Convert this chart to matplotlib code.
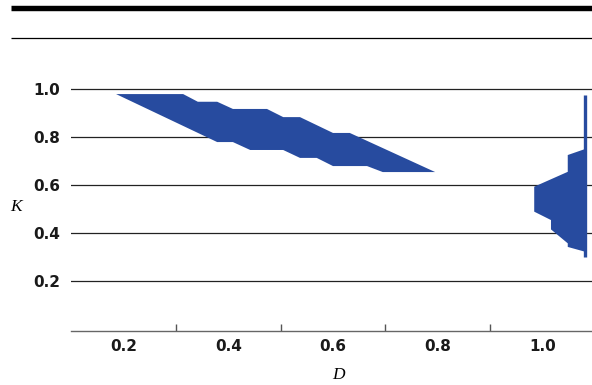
import matplotlib.pyplot as plt
from matplotlib.lines import Line2D

# main band (outline: top edge left->right, then bottom edge right->left)
band_d = [0.186, 0.314, 0.342, 0.379, 0.409, 0.474, 0.505, 0.537, 0.600, 0.632,
          0.795, 0.695, 0.665, 0.600, 0.569, 0.537, 0.505, 0.442, 0.409, 0.379]
band_k = [0.979, 0.979, 0.947, 0.947, 0.917, 0.917, 0.883, 0.883, 0.817, 0.817,
          0.654, 0.654, 0.679, 0.679, 0.713, 0.713, 0.746, 0.746, 0.779, 0.779]

# right-hand profile
side_d = [1.081, 1.048, 1.048, 0.984, 0.984, 1.016, 1.016, 1.048, 1.048, 1.081]
side_k = [0.750, 0.725, 0.655, 0.593, 0.489, 0.454, 0.415, 0.357, 0.342, 0.322]

# vertical stroke
stroke_d = 1.081
stroke_k = [0.30, 0.975]

x_labels = [0.2, 0.4, 0.6, 0.8, 1.0]
x_ticks = [0.3, 0.5, 0.7, 0.9]
y_ticks = [0.2, 0.4, 0.6, 0.8, 1.0]

blue = '#274b9f'

fig = plt.figure(figsize=(5.92, 3.85), dpi=100)
ax = fig.add_axes([71 / 592, 54 / 385, 521 / 592, 271 / 385])

ax.fill(band_d, band_k, color=blue, lw=0, zorder=3)
ax.fill(side_d, side_k, color=blue, lw=0, zorder=3)
ax.plot([stroke_d, stroke_d], stroke_k, color=blue, lw=2.4,
        solid_capstyle='butt', zorder=3)

ax.set_xlim(0.1, 0.1 + 521 / 524)
ax.set_ylim(-2 / 240, 1.121)

for s in ['top', 'right', 'left']:
    ax.spines[s].set_visible(False)
ax.spines['bottom'].set_color('#666666')
ax.spines['bottom'].set_linewidth(1.0)

ax.set_xticks(x_ticks)
ax.set_xticklabels([])
ax.tick_params(axis='x', which='major', direction='in', length=5,
               width=1.0, color='#555555')
ax.set_xticks(x_labels, minor=True)
ax.set_xticklabels([f'{v:.1f}' for v in x_labels], minor=True,
                   fontsize=11, fontweight='bold', color='#1a1a1a')
ax.tick_params(axis='x', which='minor', length=0, pad=6)

ax.set_yticks(y_ticks)
ax.set_yticklabels([f'{v:.1f}' for v in y_ticks], fontsize=11,
                   fontweight='bold', color='#1a1a1a')
ax.tick_params(axis='y', length=0, pad=8)
ax.set_axisbelow(True)
ax.yaxis.grid(True, color='#222222', lw=0.9)

fig.text(16 / 592, 1 - 207 / 385, 'K', family='Liberation Serif',
         style='italic', fontsize=12.5, ha='center', va='center')
fig.text(338 / 592, 1 - 375 / 385, 'D', family='Liberation Serif',
         style='italic', fontsize=12.5, ha='center', va='center')

# header rules
fig.add_artist(Line2D([11 / 592, 1], [1 - 8.4 / 385] * 2, color='black',
                      lw=3.9, solid_capstyle='butt'))
fig.add_artist(Line2D([11 / 592, 1], [1 - 38.3 / 385] * 2, color='black',
                      lw=0.9, solid_capstyle='butt'))

fig.savefig('out.png', dpi=100)
